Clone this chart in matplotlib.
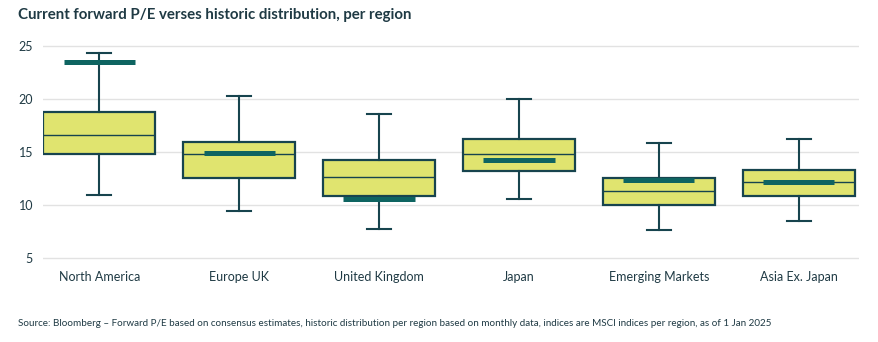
import matplotlib
matplotlib.use("Agg")
import matplotlib.pyplot as plt

# Forward P/E: historic distribution per region plus the current value
regions = ["North America", "Europe UK", "United Kingdom", "Japan", "Emerging Markets", "Asia Ex. Japan"]
lows = [11.0, 9.5, 7.8, 10.55, 7.65, 8.55]
q1s = [14.8, 12.57, 10.88, 13.23, 10.0, 10.88]
medians = [16.59, 14.87, 12.66, 14.8, 11.38, 12.16]
q3s = [18.79, 16.0, 14.27, 16.24, 12.57, 13.29]
highs = [24.31, 20.29, 18.6, 20.0, 15.87, 16.21]
current = [23.52, 14.9, 10.6, 14.23, 12.38, 12.15]
yticks = [5, 10, 15, 20, 25]

BOX_FILL = "#e0e46f"
DARK = "#17444e"
MARKER = "#0e6461"
TEXT = "#1f3a44"

plt.rcParams["font.family"] = ["Lato", "DejaVu Sans"]

fig = plt.figure(figsize=(8.79, 3.42), dpi=100)
ax = fig.add_axes([0.0486, 0.2292, 0.9284, 0.652])

stats = []
for i in range(len(regions)):
    stats.append({"whislo": lows[i], "q1": q1s[i], "med": medians[i],
                  "q3": q3s[i], "whishi": highs[i], "label": regions[i]})

positions = list(range(len(regions)))
ax.bxp(stats, positions=positions, widths=0.8, patch_artist=True, showfliers=False,
       boxprops=dict(facecolor=BOX_FILL, edgecolor=DARK, linewidth=1.6),
       whiskerprops=dict(color=DARK, linewidth=1.5),
       capprops=dict(color=DARK, linewidth=1.5),
       medianprops=dict(color=DARK, linewidth=1.0),
       capwidths=0.17, zorder=3)

# current forward P/E marker
ax.hlines(current, [p - 0.255 for p in positions], [p + 0.255 for p in positions],
          colors=MARKER, linewidth=3.6, zorder=5, capstyle="butt")

ax.set_xlim(-0.405, 5.43)
ax.set_ylim(4.5, 25.5)
ax.set_yticks(yticks)
ax.set_xticks(positions)
ax.set_xticklabels(regions)
ax.grid(axis="y", color="#e2e2e2", linewidth=1.0, zorder=0)
ax.set_axisbelow(True)
for s in ax.spines.values():
    s.set_visible(False)
ax.tick_params(axis="both", length=0, labelsize=9.0, colors=TEXT)
ax.tick_params(axis="y", pad=7)
ax.tick_params(axis="x", pad=5)

fig.text(0.021, 0.955, "Current forward P/E verses historic distribution, per region",
         fontsize=10.8, fontweight="bold", color=TEXT, va="center", ha="left")
fig.text(0.021, 0.055, "Source: Bloomberg \u2013 Forward P/E based on consensus estimates, historic distribution per region "
         "based on monthly data, indices are MSCI indices per region, as of 1 Jan 2025",
         fontsize=7.1, color=TEXT, va="center", ha="left")

fig.savefig("out.png", dpi=100)
